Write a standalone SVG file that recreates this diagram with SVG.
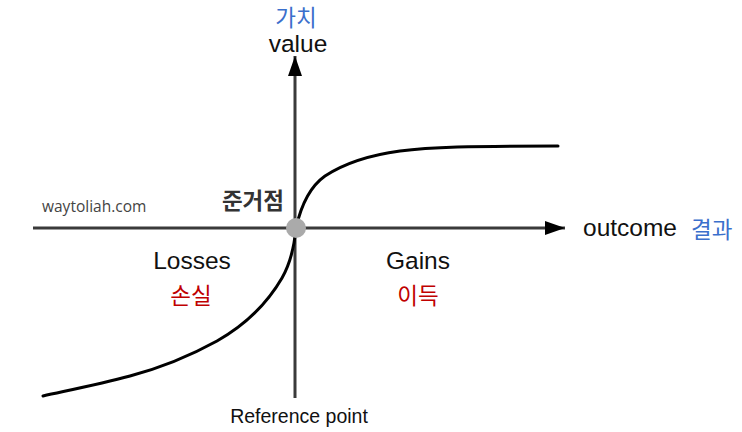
<svg xmlns="http://www.w3.org/2000/svg" width="742" height="432" viewBox="0 0 742 432">
<style>
.ax{stroke:#3a3a3a;stroke-width:3;fill:none}
.crv{stroke:#000;stroke-width:3;fill:none;stroke-linecap:round}
.en{font-family:"Liberation Sans",Arial,sans-serif;font-size:24.5px;fill:#111}
.ko{font-family:"Noto Sans CJK KR",sans-serif;font-size:22.5px}
.blue{fill:#3b6fcc}
.red{fill:#c00000}
</style>
<defs>
<marker id="ah" viewBox="0 0 20 14" refX="20" refY="7" markerWidth="20" markerHeight="14" markerUnits="userSpaceOnUse" orient="auto">
<path d="M0,0 L20,7 L0,14 Z" fill="#000"/>
</marker>
</defs>
<rect width="742" height="432" fill="#fff"/>
<g id="connectors">
<line id="x-axis" class="ax" x1="33" y1="228" x2="565" y2="228" marker-end="url(#ah)"/>
<line id="y-axis" class="ax" x1="295" y1="398" x2="295" y2="56" marker-end="url(#ah)"/>
<path id="gain-curve" class="crv" d="M296,228 C300,210 308,188 325,176 C345,163 370,155 400,151 C430,147 470,146 558,146"/>
<path id="loss-curve" class="crv" d="M296,228 C294,250 290,264 282,278 C268,302 247,324 217,341 C188,357 160,368 130,376 C100,384 70,390 43,396"/>
</g>
<g id="reference-point">
<circle cx="296" cy="228" r="10" fill="#aaaaaa"/>
<text class="ko" x="284" y="209" text-anchor="end" font-weight="bold" fill="#333">준거점</text>
<text x="299" y="423" text-anchor="middle" font-family="Liberation Sans,Arial,sans-serif" font-size="19.5" fill="#111">Reference point</text>
</g>
<g id="value-label">
<text class="ko blue" x="296" y="26" text-anchor="middle" font-size="20">가치</text>
<text class="en" x="298" y="52" text-anchor="middle" font-size="24">value</text>
</g>
<g id="outcome-label">
<text class="en" x="583" y="236">outcome</text>
<text class="ko blue" x="691" y="238">결과</text>
</g>
<g id="losses">
<text class="en" x="192" y="269" text-anchor="middle">Losses</text>
<text class="ko red" x="191" y="304" text-anchor="middle">손실</text>
</g>
<g id="gains">
<text class="en" x="418" y="269" text-anchor="middle">Gains</text>
<text class="ko red" x="418" y="304" text-anchor="middle">이득</text>
</g>
<g id="watermark">
<text x="42" y="212" font-family="Open Sans,sans-serif" font-size="15.5" fill="#444">waytoliah.com</text>
</g>
</svg>
